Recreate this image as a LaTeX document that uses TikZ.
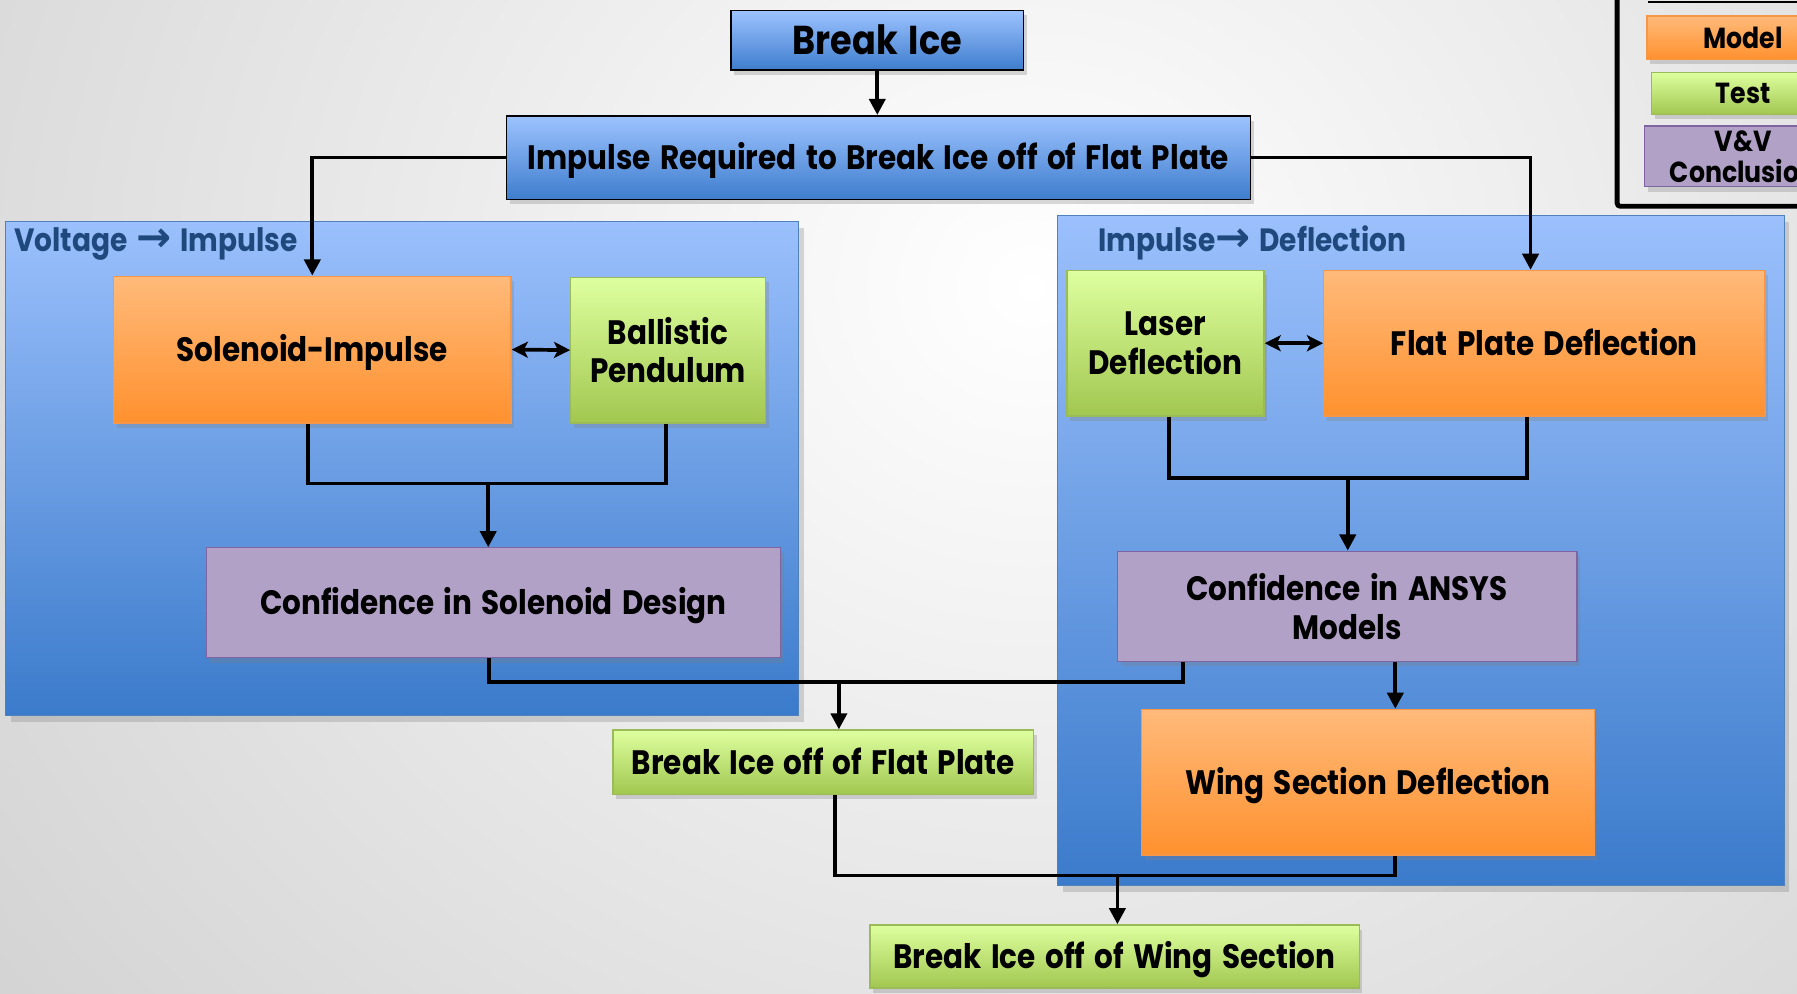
\documentclass[tikz,border=0pt]{standalone}
\usepackage{fontspec}
\setmainfont{Poppins}[FakeStretch=0.87, WordSpace=1.5]
\newfontfamily\arrowfont{DejaVu Sans}
\usetikzlibrary{shadows,arrows.meta,calc}

\definecolor{blueTop}{HTML}{9DC3FF}
\definecolor{blueBot}{HTML}{3E7DCD}
\definecolor{orgTop}{HTML}{FFBA7A}
\definecolor{orgBot}{HTML}{FF912F}
\definecolor{orgLine}{HTML}{F79646}
\definecolor{grnTop}{HTML}{DEFF9F}
\definecolor{grnBot}{HTML}{A2C750}
\definecolor{grnLine}{HTML}{9BBB59}
\definecolor{purFill}{HTML}{B2A1C7}
\definecolor{purLine}{HTML}{8064A2}
\definecolor{panelTop}{HTML}{9BC0FC}
\definecolor{panelBot}{HTML}{3B7BCB}
\definecolor{panelLine}{HTML}{4F81BD}
\definecolor{titleBlue}{HTML}{1F497D}

\newcommand{\boxfont}{\fontsize{21}{24}\selectfont\bfseries}
\newcommand{\breakfont}{\fontsize{25}{30}\selectfont\bfseries}
\newcommand{\legfont}{\fontsize{18}{19}\selectfont\bfseries}
\newcommand{\toarrow}{{\arrowfont\fontsize{26}{24}\selectfont →}}

\tikzset{
  sz/.style 2 args={minimum width=#1*0.025cm, minimum height=#2*0.025cm},
  box/.style={draw, inner sep=2pt, align=center, font=\boxfont,
    drop shadow={opacity=0.3, shadow xshift=2pt, shadow yshift=-3pt}},
  oneline/.style={text height=20pt, text depth=5pt},
  goal/.style={box, draw=black, line width=1pt, top color=blueTop, bottom color=blueBot},
  model/.style={box, draw=orgLine, line width=0.8pt, top color=orgTop, bottom color=orgBot},
  test/.style={box, draw=grnLine, line width=0.8pt, top color=grnTop, bottom color=grnBot},
  vv/.style={box, draw=purLine, line width=0.8pt, fill=purFill},
  panel/.style={draw=panelLine, line width=0.6pt, top color=panelTop, bottom color=panelBot,
    drop shadow={opacity=0.3, shadow xshift=3pt, shadow yshift=-4pt}},
  paneltitle/.style={text=titleBlue, font=\fontsize{20}{24}\selectfont\bfseries, inner sep=0pt},
  link/.style={line width=2.3pt},
  arr/.style={link, -{Triangle[length=10pt,width=10pt]}},
  twoway/.style={link, {Stealth[length=10pt,width=10pt,inset=2.5pt]}-{Stealth[length=10pt,width=10pt,inset=2.5pt]}},
}

\begin{document}
\begin{tikzpicture}[x=0.025cm, y=-0.025cm]
  \clip (0,0) rectangle (1568,867);
  \shade[inner color=white, outer color=black!27] (-900,-1350) rectangle (2700,1850);

  % the two work areas
  \node[panel, sz={692}{431}] (panelL) at (351,408.5) {};
  \node[panel, sz={634}{585}] (panelR) at (1240,480.5) {};
  \node[paneltitle, anchor=west] (titleL) at (12,213) {Voltage \toarrow{} Impulse};
  \node[paneltitle, anchor=west] (titleR) at (958,212) {Impulse\toarrow{} Deflection};

  % legend
  \draw[line width=3pt, rounded corners=2pt] (1411,-20) rectangle (1640,180);
  \draw[line width=1.5pt] (1438,1.5) -- (1568,1.5);
  \node[model, sz={168}{38}, font=\legfont] (lgModel) at (1521,33) {Model};
  \node[test, sz={160}{37}, font=\legfont] (lgTest) at (1521,81.5) {Test};
  \node[vv, sz={172}{53}, font=\legfont] (lgVV) at (1521,136.5) {V\&V\\Conclusion};

  % boxes
  \node[goal, font=\breakfont, sz={255}{52}] (breakice) at (765.5,35) {Break Ice};
  \node[goal, oneline, sz={649}{73}] (impreq) at (766.5,137.5) {Impulse Required to Break Ice off of Flat Plate};
  \node[model, oneline, sz={347}{128}] (solimp) at (272.5,305) {Solenoid-Impulse};
  \node[test, sz={170}{127}] (ballistic) at (583,305.5) {Ballistic\\Pendulum};
  \node[vv, oneline, sz={501}{96}] (confsol) at (430.5,526) {Confidence in Solenoid Design};
  \node[test, sz={172}{127}] (laser) at (1017,299.5) {Laser\\Deflection};
  \node[model, oneline, sz={385}{127}] (flatdef) at (1347.5,299.5) {Flat Plate Deflection};
  \node[vv, sz={401}{96}] (confansys) at (1175.5,529) {Confidence in ANSYS\\Models};
  \node[model, oneline, sz={395}{127}] (wingdef) at (1193.5,682.5) {Wing Section Deflection};
  \node[test, oneline, sz={367}{56}] (breakflat) at (718.5,665) {Break Ice off of Flat Plate};
  \node[test, oneline, sz={427}{55}] (breakwing) at (972.5,834.5) {Break Ice off of Wing Section};

  % junctions
  \coordinate (jL) at (426,422);
  \coordinate (jR) at (1176,417);
  \coordinate (jM) at (732,595);
  \coordinate (jB) at (975,764);
  \coordinate (c1) at ($(confansys.south)+(42,0)$);

  % connectors
  \draw[arr] (breakice.south) -- (breakice.south |- impreq.north);
  \draw[arr] (impreq.west) -| (solimp.north);
  \draw[arr] (impreq.east) -| ($(flatdef.north)+(-12,0)$);
  \draw[twoway] (solimp.east) -- (ballistic.west);
  \draw[twoway] (laser.east) -- (laser.east -| flatdef.west);

  \draw[link] ($(solimp.south)+(-4,0)$) |- (jL) -| ($(ballistic.south)+(-2,0)$);
  \draw[arr] (jL) -- (jL |- confsol.north);
  \draw[link] ($(laser.south)+(3,0)$) |- (jR) -| ($(flatdef.south)+(-15,0)$);
  \draw[arr] (jR) -- (jR |- confansys.north);
  \draw[arr] (c1) -- (c1 |- wingdef.north);

  \draw[link] ($(confsol.south)+(-4,0)$) |- (jM) -| ($(confansys.south)+(-143,0)$);
  \draw[arr] (jM) -- (jM |- breakflat.north);
  \draw[link] ($(breakflat.south)+(10,0)$) |- (jB) -| ($(wingdef.south)+(24,0)$);
  \draw[arr] (jB) -- (jB |- breakwing.north);
\end{tikzpicture}
\end{document}
